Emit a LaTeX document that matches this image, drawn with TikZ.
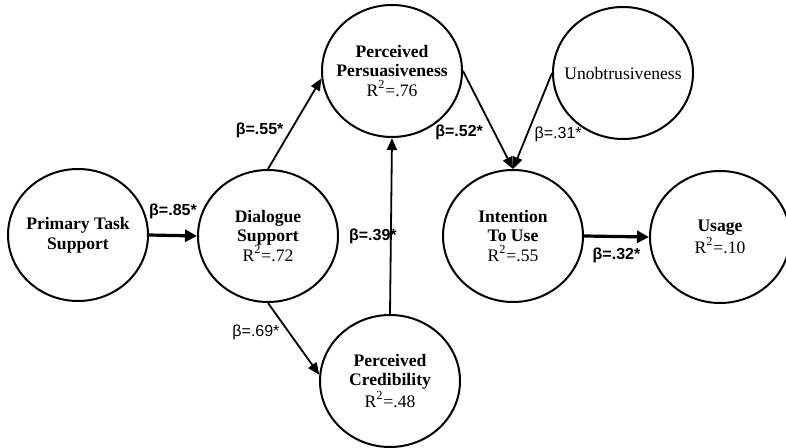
\documentclass[tikz,border=0pt]{standalone}
\usepackage{fontspec}
\setmainfont{Liberation Serif}
\setsansfont{Liberation Sans}
\usetikzlibrary{shapes.geometric,arrows.meta}

\begin{document}
\begin{tikzpicture}[x=0.5pt,y=-0.5pt,
        latent/.style={ellipse,draw,line width=1pt,minimum width=70pt,minimum height=66pt,inner sep=0pt,
            label={[align=center,font=\fontsize{8.8}{9.8}\selectfont]center:#1}},
        link/.style={line width=0.9pt,-{Triangle[length=6pt,width=5pt]}},
        mainlink/.style={line width=1.6pt,-{Triangle[length=6pt,width=6pt]}},
        coef/.style={font=\sffamily\bfseries\fontsize{8}{9}\selectfont},
        coeflight/.style={font=\sffamily\fontsize{8}{9}\selectfont}]
        \useasboundingbox (0,0) rectangle (786,448);
        % constructs
        \node[latent={\textbf{Primary Task}\\\textbf{Support}}] (pts) at (78,235) {};
        \node[latent={\textbf{Dialogue}\\\textbf{Support}\\R\textsuperscript{2}=.72}] (ds) at (268,236) {};
        \node[latent={\textbf{Perceived}\\\textbf{Persuasiveness}\\R\textsuperscript{2}=.76}] (pp) at (392,71) {};
        \node[latent={\textbf{Perceived}\\\textbf{Credibility}\\R\textsuperscript{2}=.48}] (pc) at (390,381) {};
        \node[latent={Unobtrusiveness}] (unob) at (623,73) {};
        \node[latent={\textbf{Intention}\\\textbf{To Use}\\R\textsuperscript{2}=.55}] (itu) at (513,236) {};
        \node[latent={\textbf{Usage}\\R\textsuperscript{2}=.10}] (usage) at (720,237) {};
        % paths
        \draw[mainlink] (pts.east) -- (ds.west) node[coef,midway,above=4pt] (b85) {β=.85*};
        \draw[link] (ds.north) -- (pp.186) node[coef,pos=0.43,left=0pt] (b55) {β=.55*};
        \draw[link] (ds.south) -- (pc.175) node[coeflight,pos=0.41,left=1pt] (b69) {β=.69*};
        \draw[link] (pc.north) -- (pp.south) node[coef,pos=0.44,xshift=-9pt] (b39) {β=.39*};
        \draw[link] (pp.east) -- (itu.north) node[coef,pos=0.63,left=2pt] (b52) {β=.52*};
        \draw[link] (unob.west) -- (itu.north) node[coeflight,pos=0.64,right=0pt] (b31) {β=.31*};
        \draw[mainlink] (itu.east) -- (usage.west) node[coef,midway,below=1.5pt] (b32) {β=.32*};
    \end{tikzpicture}
\end{document}
